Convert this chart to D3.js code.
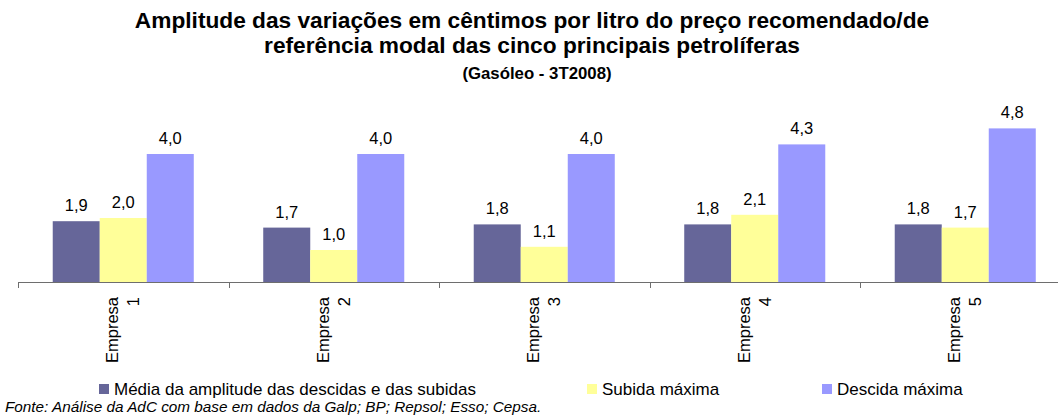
<!DOCTYPE html>
<html>
<head>
<meta charset="utf-8">
<script src="https://cdn.jsdelivr.net/npm/d3@7"></script>
<style>
  body { margin: 0; background: #fff; }
  svg { display: block; font-family: Arial, "Liberation Sans", sans-serif; }
</style>
</head>
<body>
<div id="wrapper"></div>
<script>
const categories = ["Empresa 1", "Empresa 2", "Empresa 3", "Empresa 4", "Empresa 5"]
const seriesNames = [
    "Média da amplitude das descidas e das subidas",
    "Subida máxima",
    "Descida máxima",
]
const mediaValues = [1.9, 1.7, 1.8, 1.8, 1.8]
const subidaValues = [2.0, 1.0, 1.1, 2.1, 1.7]
const descidaValues = [4.0, 4.0, 4.0, 4.3, 4.8]
const colors = ["#666699", "#ffff99", "#9999ff"]

function drawBars() {
    const width = 1058
    const height = 416
    const dims = {
        left: 18,
        step: 210.5,
        baseline: 282,
        pxPerUnit: 32,
    }

    const svg = d3.select("#wrapper")
        .append("svg")
        .attr("width", width)
        .attr("height", height)

    // title
    const title = svg.append("g")
        .attr("text-anchor", "middle")
        .attr("font-weight", "bold")
        .attr("fill", "#000")
    title.append("text")
        .attr("x", 532).attr("y", 28)
        .attr("font-size", "22.7px")
        .text("Amplitude das variações em cêntimos por litro do preço recomendado/de")
    title.append("text")
        .attr("x", 532).attr("y", 53)
        .attr("font-size", "22.7px")
        .text("referência modal das cinco principais petrolíferas")
    title.append("text")
        .attr("x", 537).attr("y", 79)
        .attr("font-size", "16.8px")
        .text("(Gasóleo - 3T2008)")

    const data = categories.map((c, i) => ({
        category: c,
        values: [mediaValues[i], subidaValues[i], descidaValues[i]],
    }))

    const xScale = d3.scaleBand()
        .domain(categories)
        .range([dims.left, dims.left + dims.step * categories.length])
        .paddingInner(0.33)
        .paddingOuter(0.165)

    const innerScale = d3.scaleBand()
        .domain(d3.range(seriesNames.length))
        .range([0, xScale.bandwidth()])

    const yScale = d3.scaleLinear()
        .domain([0, 5])
        .range([dims.baseline, dims.baseline - 5 * dims.pxPerUnit])

    const groups = svg.append("g")
        .selectAll("g")
        .data(data)
        .join("g")
        .attr("transform", d => `translate(${xScale(d.category)},0)`)

    groups.selectAll("rect")
        .data(d => d.values)
        .join("rect")
        .attr("x", (d, i) => innerScale(i))
        .attr("y", d => yScale(d))
        .attr("width", innerScale.bandwidth())
        .attr("height", d => yScale(0) - yScale(d))
        .attr("fill", (d, i) => colors[i])

    groups.selectAll("text")
        .data(d => d.values)
        .join("text")
        .attr("x", (d, i) => innerScale(i) + innerScale.bandwidth() / 2)
        .attr("y", d => yScale(d) - 10)
        .attr("text-anchor", "middle")
        .attr("font-size", "16.5px")
        .attr("fill", "#000")
        .text(d => d3.format(".1f")(d).replace(".", ","))

    // x axis: ticks between categories
    const axis = svg.append("g")
    const edges = d3.range(categories.length + 1).map(i => dims.left + i * dims.step)
    axis.append("line")
        .attr("x1", edges[0]).attr("x2", edges[edges.length - 1])
        .attr("y1", dims.baseline + 0.5).attr("y2", dims.baseline + 0.5)
        .attr("stroke", "#6e6e6e")
    axis.selectAll(".tick")
        .data(edges)
        .join("line")
        .attr("class", "tick")
        .attr("x1", d => Math.round(d) + 0.5).attr("x2", d => Math.round(d) + 0.5)
        .attr("y1", dims.baseline).attr("y2", dims.baseline + 6)
        .attr("stroke", "#6e6e6e")

    const labels = axis.selectAll(".xlabel")
        .data(categories)
        .join("text")
        .attr("class", "xlabel")
        .attr("transform", d => `translate(${xScale(d) + xScale.bandwidth() / 2},297) rotate(-90)`)
        .attr("text-anchor", "end")
        .attr("font-size", "16.5px")
        .attr("fill", "#000")
    labels.each(function (d) {
        const parts = d.split(" ")
        const t = d3.select(this)
        t.append("tspan").attr("x", 0).attr("y", -5).text(parts[0])
        t.append("tspan").attr("x", 0).attr("y", 16).text(parts[1])
    })

    // legend
    const legendX = [99, 587, 822]
    const legend = svg.append("g")
        .selectAll("g")
        .data(seriesNames)
        .join("g")
        .attr("transform", (d, i) => `translate(${legendX[i]},384)`)
    legend.append("rect")
        .attr("width", 10).attr("height", 10)
        .attr("fill", (d, i) => colors[i])
    legend.append("text")
        .attr("x", 15).attr("y", 11)
        .attr("font-size", "17px")
        .attr("fill", "#000")
        .text(d => d)

    svg.append("text")
        .attr("x", 5).attr("y", 412)
        .attr("font-size", "15.3px")
        .attr("font-style", "italic")
        .attr("fill", "#000")
        .text("Fonte: Análise da AdC com base em dados da Galp; BP; Repsol; Esso; Cepsa.")
}

drawBars()
</script>
</body>
</html>
